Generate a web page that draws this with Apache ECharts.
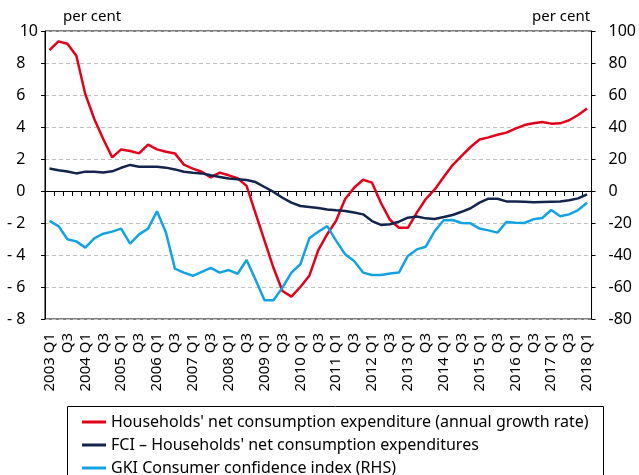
<!DOCTYPE html>
<html>
<head>
<meta charset="utf-8">
<script src="https://cdn.jsdelivr.net/npm/echarts@6/dist/echarts.min.js"></script>
<style>
  html, body { margin: 0; padding: 0; background: #fff; }
  #chart { width: 639px; height: 475px; }
</style>
</head>
<body>
<div id="chart"></div>
<script>
// quarters 2003 Q1 .. 2018 Q1
var years = [2003, 2004, 2005, 2006, 2007, 2008, 2009, 2010, 2011, 2012, 2013, 2014, 2015, 2016, 2017, 2018]
var categories = []
years.forEach(function(y) {
  for (var q = 1; q <= 4; q++) {
    if (y === 2018 && q > 1) break
    categories.push(y + ' Q' + q)
  }
})

// households' net consumption expenditure, annual growth rate (LHS)
var hhConsumption = [
  8.8, 9.35, 9.2, 8.45, 6.05, 4.5, 3.25, 2.1, 2.6, 2.5, 2.35, 2.9, 2.6, 2.45, 2.35, 1.65,
  1.4, 1.2, 0.85, 1.15, 0.98, 0.8, 0.32, -1.4, -3.1, -4.8, -6.25, -6.6, -6.0, -5.3, -3.7,
  -2.7, -1.85, -0.5, 0.2, 0.7, 0.52, -0.75, -1.8, -2.3, -2.3, -1.35, -0.5, 0.1, 0.88,
  1.62, 2.2, 2.75, 3.22, 3.35, 3.52, 3.65, 3.9, 4.12, 4.23, 4.31, 4.21, 4.23, 4.42, 4.75, 5.15
]
// FCI - households' net consumption expenditures (LHS)
var fci = [
  1.4, 1.3, 1.22, 1.1, 1.21, 1.21, 1.15, 1.23, 1.45, 1.63, 1.52, 1.52, 1.52, 1.46, 1.35, 1.2,
  1.14, 1.1, 0.98, 0.88, 0.78, 0.73, 0.69, 0.56, 0.25, -0.06, -0.42, -0.73, -0.94, -1.0, -1.06,
  -1.15, -1.21, -1.25, -1.35, -1.46, -1.88, -2.12, -2.08, -1.92, -1.67, -1.6, -1.71, -1.75, -1.63,
  -1.5, -1.3, -1.08, -0.73, -0.48, -0.48, -0.65, -0.65, -0.67, -0.71, -0.69, -0.67, -0.65, -0.58, -0.46, -0.21
]
// GKI consumer confidence index (RHS)
var gki = [
  -18.7, -21.9, -30.2, -31.5, -35.4, -29.6, -26.7, -25.4, -23.5, -32.9, -27.1, -23.5, -12.7, -26, -48.5, -51,
  -53, -50.6, -48, -51, -49.4, -51.7, -43.1, -55.5, -68.3, -68.3, -60.4, -51, -45.8, -29.6, -25.5,
  -21.9, -31.2, -39.6, -43.8, -51, -52.5, -52.5, -51.5, -51, -40.6, -36.5, -34.8, -25, -18.3,
  -18.1, -20, -20.2, -23.5, -24.6, -26, -19.4, -19.8, -20, -17.7, -16.9, -11.9, -15.8, -14.6, -11.9, -7.3
]

var seriesNames = [
  "Households' net consumption expenditure (annual growth rate)",
  "FCI \u2013 Households' net consumption expenditures",
  'GKI Consumer confidence index (RHS)'
]
var colors = ['#e2001a', '#13244d', '#12a3e0']

var font = '"Noto Sans", sans-serif'
var chart = echarts.init(document.getElementById('chart'))

function xLabel(value) {
  var q = value.slice(-2)
  if (q === 'Q1') return value
  if (q === 'Q3') return 'Q3'
  return ''
}

// one legend per row so the last row does not wrap at the bottom edge
var legends = seriesNames.map(function(name, i) {
  return {
    orient: 'vertical',
    left: 82,
    top: 413 + i * 23,
    padding: 0,
    itemWidth: 24,
    itemHeight: 3,
    icon: 'rect',
    textStyle: { fontFamily: font, fontSize: 16, lineHeight: 18, color: '#000' },
    data: [name]
  }
})

chart.setOption({
  animation: false,
  textStyle: { fontFamily: font, color: '#000' },
  grid: {
    left: 45,
    top: 31,
    width: 549,
    height: 288,
    show: true,
    borderColor: '#000',
    borderWidth: 1,
    backgroundColor: 'transparent'
  },
  graphic: [
    { type: 'text', left: 63, top: 9, style: { text: 'per cent', font: '15px ' + font, fill: '#000' } },
    { type: 'text', left: 532, top: 9, style: { text: 'per cent', font: '15px ' + font, fill: '#000' } },
    // legend frame, runs past the bottom edge like the original
    {
      type: 'rect',
      shape: { x: 67.5, y: 406.5, width: 536, height: 90 },
      style: { fill: 'none', stroke: '#000', lineWidth: 1 },
      silent: true
    }
  ],
  legend: legends,
  xAxis: [
    {
      type: 'category',
      data: categories,
      boundaryGap: true,
      axisLine: { onZero: true, lineStyle: { color: '#000', width: 1 } },
      axisTick: { show: true, interval: 0, length: 5, lineStyle: { color: '#000' } },
      axisLabel: { show: false },
      splitLine: { show: false }
    },
    {
      type: 'category',
      data: categories,
      position: 'bottom',
      boundaryGap: true,
      axisLine: { show: false, onZero: false },
      axisTick: { show: false },
      axisLabel: {
        interval: 0,
        rotate: 90,
        margin: 14,
        fontSize: 15,
        color: '#000',
        formatter: xLabel
      },
      splitLine: { show: false }
    }
  ],
  yAxis: [
    {
      type: 'value',
      min: -8,
      max: 10,
      interval: 2,
      axisLine: { show: true, lineStyle: { color: '#000' } },
      axisTick: { show: true, length: 4, lineStyle: { color: '#000' } },
      axisLabel: {
        fontSize: 16,
        color: '#000',
        margin: 7,
        formatter: function(v) {
          if (v === 10) return '10'
          return (v < 0 ? '- ' + (-v) : String(v)) + '   '
        }
      },
      splitLine: { show: true, lineStyle: { color: '#c0c0c0', type: [4, 3] } }
    },
    {
      type: 'value',
      min: -80,
      max: 100,
      interval: 20,
      position: 'right',
      axisLine: { show: true, lineStyle: { color: '#000' } },
      axisTick: { show: true, length: 4, lineStyle: { color: '#000' } },
      axisLabel: { fontSize: 16, color: '#000', margin: 17 },
      splitLine: { show: false }
    }
  ],
  series: [
    {
      name: seriesNames[0],
      type: 'line',
      xAxisIndex: 0,
      yAxisIndex: 0,
      data: hhConsumption,
      symbol: 'none',
      smooth: false,
      itemStyle: { color: colors[0] },
      lineStyle: { color: colors[0], width: 2.5 }
    },
    {
      name: seriesNames[1],
      type: 'line',
      xAxisIndex: 0,
      yAxisIndex: 0,
      data: fci,
      symbol: 'none',
      itemStyle: { color: colors[1] },
      lineStyle: { color: colors[1], width: 2.5 }
    },
    {
      name: seriesNames[2],
      type: 'line',
      xAxisIndex: 0,
      yAxisIndex: 1,
      data: gki,
      symbol: 'none',
      itemStyle: { color: colors[2] },
      lineStyle: { color: colors[2], width: 2.5 }
    }
  ]
})
</script>
</body>
</html>
